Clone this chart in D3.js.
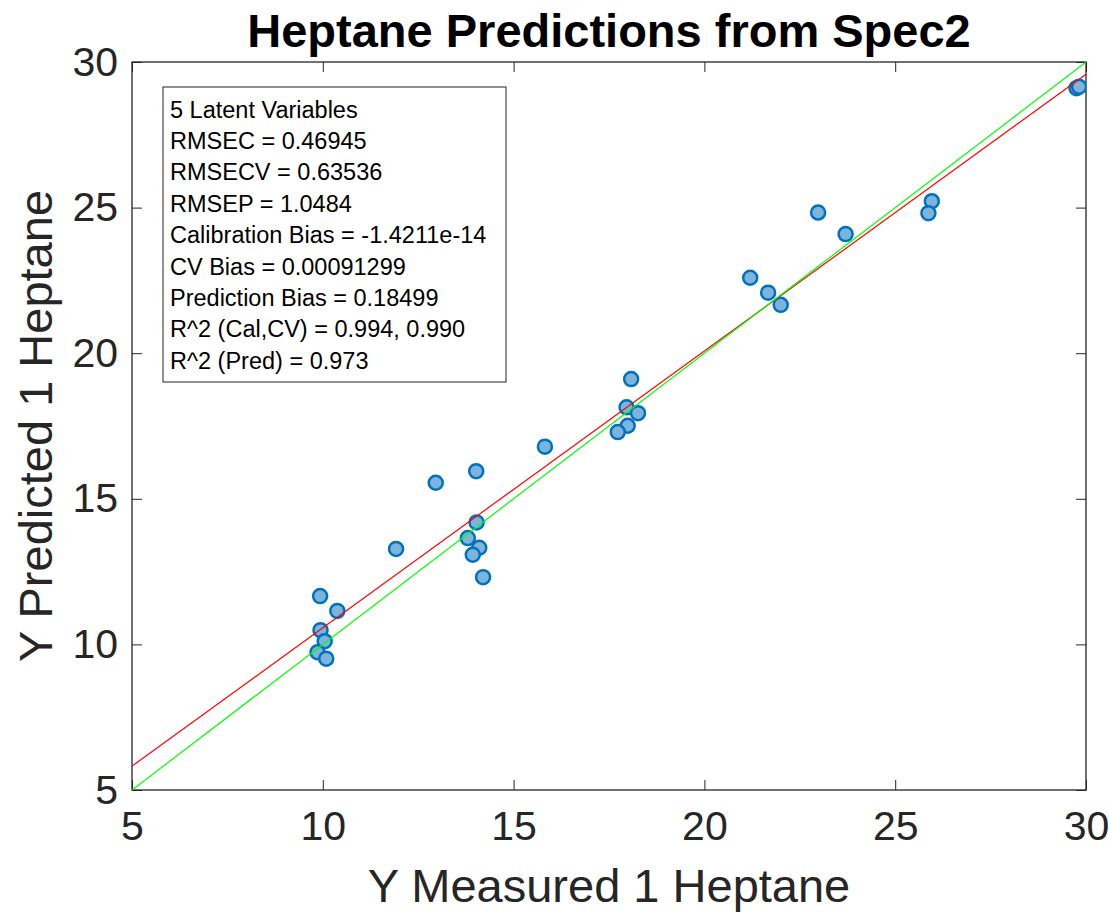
<!DOCTYPE html>
<html>
<head>
<meta charset="utf-8">
<script src="https://cdn.jsdelivr.net/npm/d3@7"></script>
<style>
  body { margin: 0; background: #fff; }
  text { font-family: "Liberation Sans", Arial, Helvetica, sans-serif; }
</style>
</head>
<body>
<div id="chart"></div>
<script>
// measured vs predicted heptane values
var measured  = [9.93, 10.38, 9.94, 10.05, 9.86, 10.09, 11.92, 12.96, 14.02, 14.03, 13.80, 14.10, 13.93, 14.20,
                 15.82, 18.08, 17.96, 18.26, 17.99, 17.73, 21.20, 21.67, 22.00, 22.98, 23.70, 25.96, 25.87, 29.75, 29.82];
var predicted = [11.66, 11.15, 10.49, 10.11, 9.73, 9.51, 13.28, 15.55, 15.95, 14.19, 13.65, 13.32, 13.08, 12.31,
                 16.79, 19.11, 18.14, 17.94, 17.51, 17.29, 22.59, 22.08, 21.66, 24.83, 24.09, 25.22, 24.81, 29.10, 29.15];

// fit line (red) and 1:1 line (green)
var fitLine = [[5, 5.82], [30, 29.58]];
var idLine  = [[5, 5], [30, 30]];

var ticks = [5, 10, 15, 20, 25, 30];

var statsLines = [
  "5 Latent Variables",
  "RMSEC = 0.46945",
  "RMSECV = 0.63536",
  "RMSEP = 1.0484",
  "Calibration Bias = -1.4211e-14",
  "CV Bias = 0.00091299",
  "Prediction Bias = 0.18499",
  "R^2 (Cal,CV) = 0.994, 0.990",
  "R^2 (Pred) = 0.973"
];

var margin = {top: 62, right: 23, bottom: 123, left: 132}
  , width = 1109 - margin.left - margin.right
  , height = 913 - margin.top - margin.bottom;

var svg = d3.select("#chart").append("svg")
    .attr("width", 1109)
    .attr("height", 913);

var g = svg.append("g")
    .attr("transform", "translate(" + margin.left + "," + margin.top + ")");

var x = d3.scaleLinear().domain([5, 30]).range([0, width]);
var y = d3.scaleLinear().domain([5, 30]).range([height, 0]);

g.append("clipPath").attr("id", "clip")
  .append("rect").attr("width", width).attr("height", height);

// axes, ticks pointing inward, MATLAB box style
var axisColor = "#262626";
function styleAxis(sel) {
  sel.select(".domain").remove();
  sel.selectAll("line").attr("stroke", axisColor).attr("stroke-width", 1);
  sel.selectAll("text").attr("fill", axisColor).style("font-size", "41px");
}

g.append("g")
    .attr("transform", "translate(0," + height + ")")
    .call(d3.axisBottom(x).tickValues(ticks).tickSize(-10).tickPadding(21))
    .call(styleAxis)
    .selectAll("text").attr("dy", "0.71em");

g.append("g")
    .call(d3.axisTop(x).tickValues(ticks).tickSize(-10).tickFormat(""))
    .call(styleAxis);

g.append("g")
    .call(d3.axisLeft(y).tickValues(ticks).tickSize(-10).tickPadding(14))
    .call(styleAxis);

g.append("g")
    .attr("transform", "translate(" + width + ",0)")
    .call(d3.axisRight(y).tickValues(ticks).tickSize(-10).tickFormat(""))
    .call(styleAxis);

g.append("rect")
    .attr("width", width)
    .attr("height", height)
    .attr("fill", "none")
    .attr("stroke", axisColor)
    .attr("stroke-width", 1.3);

// points
g.append("g").attr("clip-path", "url(#clip)")
  .selectAll(".dot")
    .data(measured)
  .enter().append("circle")
    .attr("class", "dot")
    .attr("cx", function(d) { return x(d); })
    .attr("cy", function(d, i) { return y(predicted[i]); })
    .attr("r", 7)
    .attr("fill", "#7db4de")
    .attr("stroke", "#0072bd")
    .attr("stroke-width", 2.5);

var line = d3.line()
    .x(function(d) { return x(d[0]); })
    .y(function(d) { return y(d[1]); });

g.append("path")
    .datum(fitLine)
    .attr("d", line)
    .attr("fill", "none")
    .attr("stroke", "#ff0000")
    .attr("stroke-width", 1.2)
    .attr("clip-path", "url(#clip)");

g.append("path")
    .datum(idLine)
    .attr("d", line)
    .attr("fill", "none")
    .attr("stroke", "#00ff00")
    .attr("stroke-width", 1.2)
    .attr("clip-path", "url(#clip)");

// stats box
g.append("rect")
    .attr("x", 31)
    .attr("y", 25)
    .attr("width", 343)
    .attr("height", 295)
    .attr("fill", "#fff")
    .attr("stroke", "#222")
    .attr("stroke-width", 1);

g.append("g").selectAll("text")
    .data(statsLines)
  .enter().append("text")
    .attr("x", 38)
    .attr("y", function(d, i) { return 55.5 + i * 31.4; })
    .style("font-size", "23.5px")
    .attr("fill", "#000")
    .text(function(d) { return d; });

// title and axis labels
svg.append("text")
    .attr("x", margin.left + width / 2)
    .attr("y", 47)
    .attr("text-anchor", "middle")
    .style("font-size", "47px")
    .style("font-weight", "bold")
    .attr("fill", "#000")
    .text("Heptane Predictions from Spec2");

svg.append("text")
    .attr("x", margin.left + width / 2)
    .attr("y", 902)
    .attr("text-anchor", "middle")
    .style("font-size", "47px")
    .attr("fill", axisColor)
    .text("Y Measured 1 Heptane");

svg.append("text")
    .attr("transform", "translate(52," + (margin.top + height / 2) + ") rotate(-90)")
    .attr("text-anchor", "middle")
    .style("font-size", "47px")
    .attr("fill", axisColor)
    .text("Y Predicted 1 Heptane");
</script>
</body>
</html>
